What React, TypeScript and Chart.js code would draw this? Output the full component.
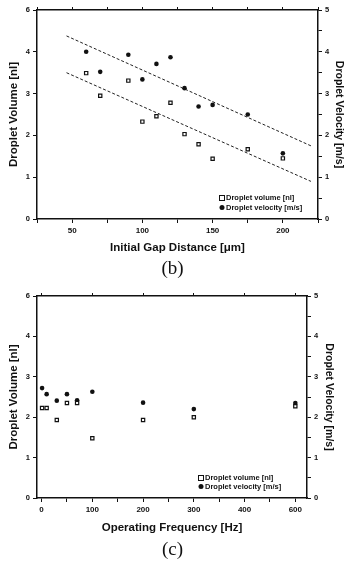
import React, { useEffect, useRef } from 'react';
import { Chart, registerables } from 'chart.js';

Chart.register(...registerables);

// ---------- Panel (b): initial gap distance ----------
const gapDistance = [60, 70, 90, 100, 110, 120, 130, 140, 150, 175, 200];
const gapVolume = [3.49, 2.95, 3.31, 2.33, 2.46, 2.78, 2.03, 1.79, 1.44, 1.67, 1.45];
const gapVelocity = [4.0, 3.52, 3.93, 3.34, 3.71, 3.87, 3.13, 2.69, 2.73, 2.5, 1.57];
const gapVelocityFitX = [46, 220];
const gapVelocityFitY = [4.38, 1.75];
const gapVolumeFitX = [46, 220];
const gapVolumeFitY = [3.5, 0.9];
const gapTicks = [25, 50, 75, 100, 125, 150, 175, 200, 225];
const gapTickLabels = ['', '50', '', '100', '', '150', '', '200', ''];

// ---------- Panel (c): operating frequency ----------
const freqHz = [1, 10, 30, 50, 70, 100, 200, 300, 600];
const freqVolume = [2.23, 2.23, 1.93, 2.35, 2.35, 1.48, 1.93, 2.0, 2.27];
const freqVelocity = [2.72, 2.57, 2.41, 2.57, 2.42, 2.63, 2.36, 2.2, 2.35];
// axis is evenly labelled 0,100,200,300,400,600 (last step compressed)
const freqTickPos = [0, 50, 100, 150, 200, 250, 300, 350, 400, 450, 500];
const freqTickLabels = ['0', '', '100', '', '200', '', '300', '', '400', '', '600'];
const freqTopTicks = [0, 100, 200, 300, 400, 500];
const freqToAxis = (hz: number) => (hz <= 400 ? hz : 400 + (hz - 400) / 2);

// ---------- shared y axes ----------
const leftTicks = [0, 1, 2, 3, 4, 5];
const leftTickLabels = ['0', '1', '2', '3', '4', '6'];
const rightTicks = [0, 0.5, 1, 1.5, 2, 2.5, 3, 3.5, 4, 4.5, 5];
const rightTickLabels = ['0', '', '1', '', '2', '', '3', '', '4', '', '5'];

const volumeLabel = 'Droplet volume [nl]';
const velocityLabel = 'Droplet velocity [m/s]';

const FONT = "'Liberation Sans', Arial, sans-serif";
const INK = '#111';

const insideLegend = {
  id: 'insideLegend',
  afterDraw(chart: any, _args: any, opts: any) {
    const ctx = chart.ctx;
    ctx.save();
    ctx.font = opts.font;
    ctx.fillStyle = INK;
    ctx.strokeStyle = INK;
    ctx.textBaseline = 'middle';
    ctx.textAlign = 'left';
    let y = opts.y;
    chart.data.datasets.forEach((ds: any) => {
      if (!ds.inLegend) return;
      const mx = opts.x;
      if (ds.pointStyle === 'rect') {
        ctx.lineWidth = 1;
        ctx.strokeRect(mx - 2.5, y - 2.5, 5, 5);
      } else {
        ctx.beginPath();
        ctx.arc(mx, y, 2.5, 0, Math.PI * 2);
        ctx.fill();
      }
      ctx.fillText(ds.label, mx + 4, y);
      y += opts.lineHeight;
    });
    ctx.restore();
  },
};

function buildConfig(p: any) {
  const tickFont = { family: FONT, size: 8, weight: 'bold' as const };
  const yTickFont = { family: FONT, size: 7.5, weight: 'bold' as const };
  const lookup = (vals: number[], labels: string[]) => (v: any) => {
    const i = vals.indexOf(Number(v));
    return i >= 0 ? labels[i] : '';
  };
  return {
    type: 'scatter' as const,
    data: {
      datasets: [
        {
          label: volumeLabel,
          inLegend: true,
          data: p.volume,
          yAxisID: 'y',
          pointStyle: 'rect',
          pointRadius: 2.3,
          borderWidth: 1.2,
          borderColor: INK,
          backgroundColor: '#fff',
        },
        {
          label: velocityLabel,
          inLegend: true,
          data: p.velocity,
          yAxisID: 'y2',
          pointStyle: 'circle',
          pointRadius: 2.3,
          borderWidth: 0,
          borderColor: INK,
          backgroundColor: INK,
        },
        ...(p.fits || []).map((f: any) => ({
          label: f.label,
          data: f.data,
          yAxisID: f.axis,
          showLine: true,
          pointRadius: 0,
          borderWidth: 1,
          borderDash: [3, 2],
          borderColor: '#222',
        })),
      ],
    },
    options: {
      responsive: false,
      animation: false as const,
      layout: { padding: { top: p.padTop, left: 0, right: 0, bottom: 0 } },
      plugins: {
        legend: { display: false },
        tooltip: { enabled: false },
        insideLegend: p.legend,
      },
      scales: {
        x: {
          type: 'linear',
          position: 'bottom',
          min: p.xMin,
          max: p.xMax,
          afterBuildTicks: (s: any) => {
            s.ticks = p.xTicks.map((v: number) => ({ value: v }));
          },
          afterFit: (s: any) => {
            s.height = p.xHeight;
          },
          ticks: {
            callback: lookup(p.xTicks, p.xTickLabels),
            font: tickFont,
            color: INK,
            padding: 3,
            maxRotation: 0,
            autoSkip: false,
          },
          grid: { drawOnChartArea: false, drawTicks: true, tickLength: 4, color: INK, tickWidth: 1 },
          border: { display: true, color: INK, width: 1.5 },
          title: {
            display: true,
            text: p.xTitle,
            color: INK,
            font: { family: FONT, size: 11.5, weight: 'bold' },
            padding: { top: 0, bottom: 3 },
          },
        },
        xTop: {
          type: 'linear',
          position: 'top',
          min: p.xMin,
          max: p.xMax,
          afterBuildTicks: (s: any) => {
            s.ticks = p.xTopTicks.map((v: number) => ({ value: v }));
          },
          afterFit: (s: any) => {
            s.height = 4;
          },
          ticks: { display: false },
          grid: { drawOnChartArea: false, drawTicks: true, tickLength: 3, color: INK, tickWidth: 1 },
          border: { display: true, color: INK, width: 1.5 },
        },
        y: {
          type: 'linear',
          position: 'left',
          min: 0,
          max: 5,
          afterBuildTicks: (s: any) => {
            s.ticks = leftTicks.map((v) => ({ value: v }));
          },
          afterFit: (s: any) => {
            s.width = 37;
          },
          ticks: {
            callback: lookup(leftTicks, leftTickLabels),
            font: yTickFont,
            color: INK,
            padding: 3,
            autoSkip: false,
          },
          grid: { drawOnChartArea: false, drawTicks: true, tickLength: 4, color: INK, tickWidth: 1 },
          border: { display: true, color: INK, width: 1.5 },
          title: {
            display: true,
            text: 'Droplet Volume [nl]',
            color: INK,
            font: { family: FONT, size: 11.5, weight: 'bold' },
            padding: { top: 7, bottom: 0 },
          },
        },
        y2: {
          type: 'linear',
          position: 'right',
          min: 0,
          max: 5,
          afterBuildTicks: (s: any) => {
            s.ticks = rightTicks.map((v) => ({ value: v }));
          },
          afterFit: (s: any) => {
            s.width = p.rightWidth;
          },
          ticks: {
            callback: lookup(rightTicks, rightTickLabels),
            font: yTickFont,
            color: INK,
            padding: 3,
            autoSkip: false,
          },
          grid: { drawOnChartArea: false, drawTicks: true, tickLength: 4, color: INK, tickWidth: 1 },
          border: { display: true, color: INK, width: 1.5 },
          title: {
            display: true,
            text: 'Droplet Velocity [m/s]',
            color: INK,
            font: { family: FONT, size: 10.5, weight: 'bold' },
            padding: { top: p.rightTitlePad, bottom: 0 },
          },
        },
      },
    },
    plugins: [insideLegend],
  };
}

const pts = (xs: number[], ys: number[], mapX = (v: number) => v) =>
  xs.map((x, i) => ({ x: mapX(x), y: ys[i] }));

export default function App() {
  const refB = useRef<HTMLCanvasElement>(null);
  const refC = useRef<HTMLCanvasElement>(null);

  useEffect(() => {
    const chartB = new Chart(
      refB.current as HTMLCanvasElement,
      buildConfig({
        volume: pts(gapDistance, gapVolume),
        velocity: pts(gapDistance, gapVelocity),
        fits: [
          { label: 'velocity fit', data: pts(gapVelocityFitX, gapVelocityFitY), axis: 'y2' },
          { label: 'volume fit', data: pts(gapVolumeFitX, gapVolumeFitY), axis: 'y' },
        ],
        xMin: 25,
        xMax: 225,
        xTicks: gapTicks,
        xTickLabels: gapTickLabels,
        xTopTicks: gapTicks,
        xTitle: 'Initial Gap Distance [\u03bcm]',
        xHeight: 39,
        padTop: 6,
        rightWidth: 27,
        rightTitlePad: 0,
        legend: { x: 222, y: 198, lineHeight: 9.5, font: `bold 7.5px ${FONT}` },
      }) as any
    );
    const chartC = new Chart(
      refC.current as HTMLCanvasElement,
      buildConfig({
        volume: pts(freqHz, freqVolume, freqToAxis),
        velocity: pts(freqHz, freqVelocity, freqToAxis),
        fits: [],
        xMin: -9,
        xMax: 523,
        xTicks: freqTickPos,
        xTickLabels: freqTickLabels,
        xTopTicks: freqTopTicks,
        xTitle: 'Operating Frequency [Hz]',
        xHeight: 40,
        padTop: 12,
        rightWidth: 38,
        rightTitlePad: 10,
        legend: { x: 201, y: 198, lineHeight: 8.5, font: `bold 7.5px ${FONT}` },
      }) as any
    );
    return () => {
      chartB.destroy();
      chartC.destroy();
    };
  }, []);

  const caption: React.CSSProperties = {
    position: 'absolute',
    left: 0,
    width: 345,
    textAlign: 'center',
    fontFamily: "'Liberation Serif', 'Times New Roman', serif",
    fontSize: 19,
    lineHeight: '22px',
    color: INK,
  };

  return (
    <div
      style={{
        position: 'absolute',
        left: 0,
        top: 0,
        width: 345,
        height: 564,
        background: '#fff',
        overflow: 'hidden',
      }}
    >
      <canvas ref={refB} width={345} height={258} style={{ position: 'absolute', left: 0, top: 0 }} />
      <div style={{ ...caption, top: 257 }}>(b)</div>
      <canvas ref={refC} width={345} height={258} style={{ position: 'absolute', left: 0, top: 280 }} />
      <div style={{ ...caption, top: 538 }}>(c)</div>
    </div>
  );
}
